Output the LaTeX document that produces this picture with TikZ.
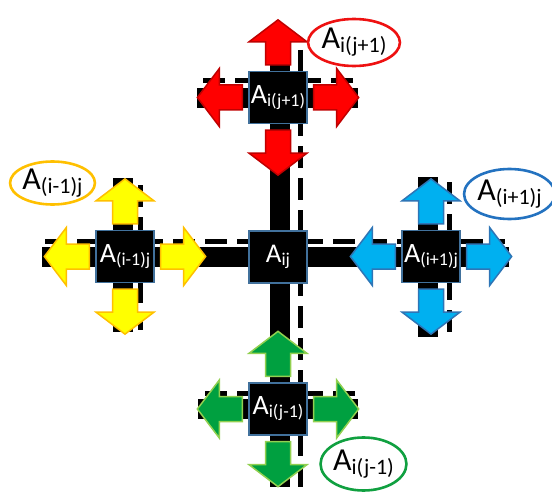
\documentclass[tikz,border=0pt]{standalone}
\usepackage{fontspec}
\setmainfont{Carlito}
\usetikzlibrary{calc,shapes.geometric}

\definecolor{celledge}{HTML}{41719C}
\definecolor{redfill}{HTML}{FF0000}
\definecolor{rededge}{HTML}{C00000}
\definecolor{yelfill}{HTML}{FFFF00}
\definecolor{yeledge}{HTML}{FFC000}
\definecolor{bluefill}{HTML}{00B0F0}
\definecolor{blueedge}{HTML}{2E75B6}
\definecolor{grnfill}{HTML}{00A040}
\definecolor{grnedge}{HTML}{92D050}
\definecolor{tagred}{HTML}{EE1111}
\definecolor{tagyel}{HTML}{FFC000}
\definecolor{tagblue}{HTML}{2372C0}
\definecolor{taggrn}{HTML}{10A040}

% cell label: large A with a lowered index
\newcommand\cellname[2][28]{{\fontsize{#1}{#1}\selectfont A}\raisebox{-3pt}{\fontsize{18}{18}\selectfont #2}}
% tag label inside the ellipses
\newcommand\tagname[1]{{\fontsize{32}{32}\selectfont A}\raisebox{-4pt}{\fontsize{22}{22}\selectfont #1}}
% four block arrows leaving a cell
\newcommand\fourway[3]{%
  \pic[fill=#2,draw=#3] at ($(#1.east)+(6,0)$) {flow};
  \pic[fill=#2,draw=#3,rotate=180] at ($(#1.west)+(-6,0)$) {flow};
  \pic[fill=#2,draw=#3,rotate=90] at ($(#1.north)+(0,-6)$) {flow};
  \pic[fill=#2,draw=#3,rotate=-90] at ($(#1.south)+(0,6)$) {flow};
}

\begin{document}
\begin{tikzpicture}[x=1pt,y=-1pt,
  bar/.style={line width=20pt,black},
  guide/.style={line width=5pt,black,dash pattern=on 22pt off 10pt},
  cell/.style={draw=celledge,fill=black,line width=1.3pt,minimum width=58pt,
    minimum height=52pt,inner sep=0pt,text=white},
  tag/.style={ellipse,draw,line width=2.6pt,fill=white,inner sep=0pt,text=black},
  flow/.pic={\path[pic actions,line width=1.5pt,line join=miter]
    (0,-12.5) -- (23,-12.5) -- (23,-29) -- (45,0) -- (23,29) -- (23,12.5) -- (0,12.5) -- cycle;},
]
\useasboundingbox (0,0) rectangle (552,495);

% lattice lines: thick bars and dashed guides
\coordinate (vtop) at (280,55);   \coordinate (vbot) at (280,487);
\coordinate (hlft) at (42,256.5); \coordinate (hrgt) at (509,256.5);
\coordinate (gtop) at (300,50);   \coordinate (gbot) at (300,487);
\coordinate (glft) at (45,241);   \coordinate (grgt) at (505,241);
\draw[bar] (vtop) -- (vbot);
\draw[bar] (hlft) -- (hrgt);
\draw[guide] (gtop) -- (gbot);
\draw[guide] (glft) -- (grgt);

% short cross lines at the neighbouring cells
\coordinate (ta) at (197,98);    \coordinate (tb) at (358,98);
\coordinate (tc) at (203,80.5);  \coordinate (td) at (355,80.5);
\coordinate (ba) at (198,409);   \coordinate (bb) at (358,409);
\coordinate (bc) at (205,393);   \coordinate (bd) at (355,393);
\coordinate (la) at (122.5,178); \coordinate (lb) at (122.5,332);
\coordinate (lc) at (140.5,185); \coordinate (ld) at (140.5,330);
\coordinate (ra) at (428,177);   \coordinate (rb) at (428,337);
\coordinate (rc) at (449,182);   \coordinate (rd) at (449,335);
\draw[bar] (ta) -- (tb);  \draw[guide] (tc) -- (td);
\draw[bar] (ba) -- (bb);  \draw[guide] (bc) -- (bd);
\draw[bar] (la) -- (lb);  \draw[guide] (lc) -- (ld);
\draw[bar] (ra) -- (rb);  \draw[guide] (rc) -- (rd);

% cells
\node[cell] (C) at (278,257) {\cellname[27]{ij}};
\node[cell] (T) at (278,97.5) {\cellname{i(j+1)}};
\node[cell] (L) at (125,256.5) {\cellname{(i-1)j}};
\node[cell] (R) at (431,256.5) {\cellname{(i+1)j}};
\node[cell] (B) at (278,409) {\cellname{i(j-1)}};

% outgoing arrows
\fourway{T}{redfill}{rededge}
\fourway{L}{yelfill}{yeledge}
\fourway{R}{bluefill}{blueedge}
\fourway{B}{grnfill}{grnedge}

% tags
\node[tag,draw=tagred,minimum width=76pt,minimum height=47pt] (tT) at (354,42.5) {\tagname{i(j+1)}};
\node[tag,draw=tagyel,minimum width=84pt,minimum height=43pt] (tL) at (52.5,183) {\tagname{(i-1)j}};
\node[tag,draw=tagblue,minimum width=79pt,minimum height=50pt] (tR) at (509.5,194) {\tagname{(i+1)j}};
\node[tag,draw=taggrn,minimum width=85pt,minimum height=53pt] (tB) at (363.5,464) {\tagname{i(j-1)}};
\end{tikzpicture}
\end{document}
